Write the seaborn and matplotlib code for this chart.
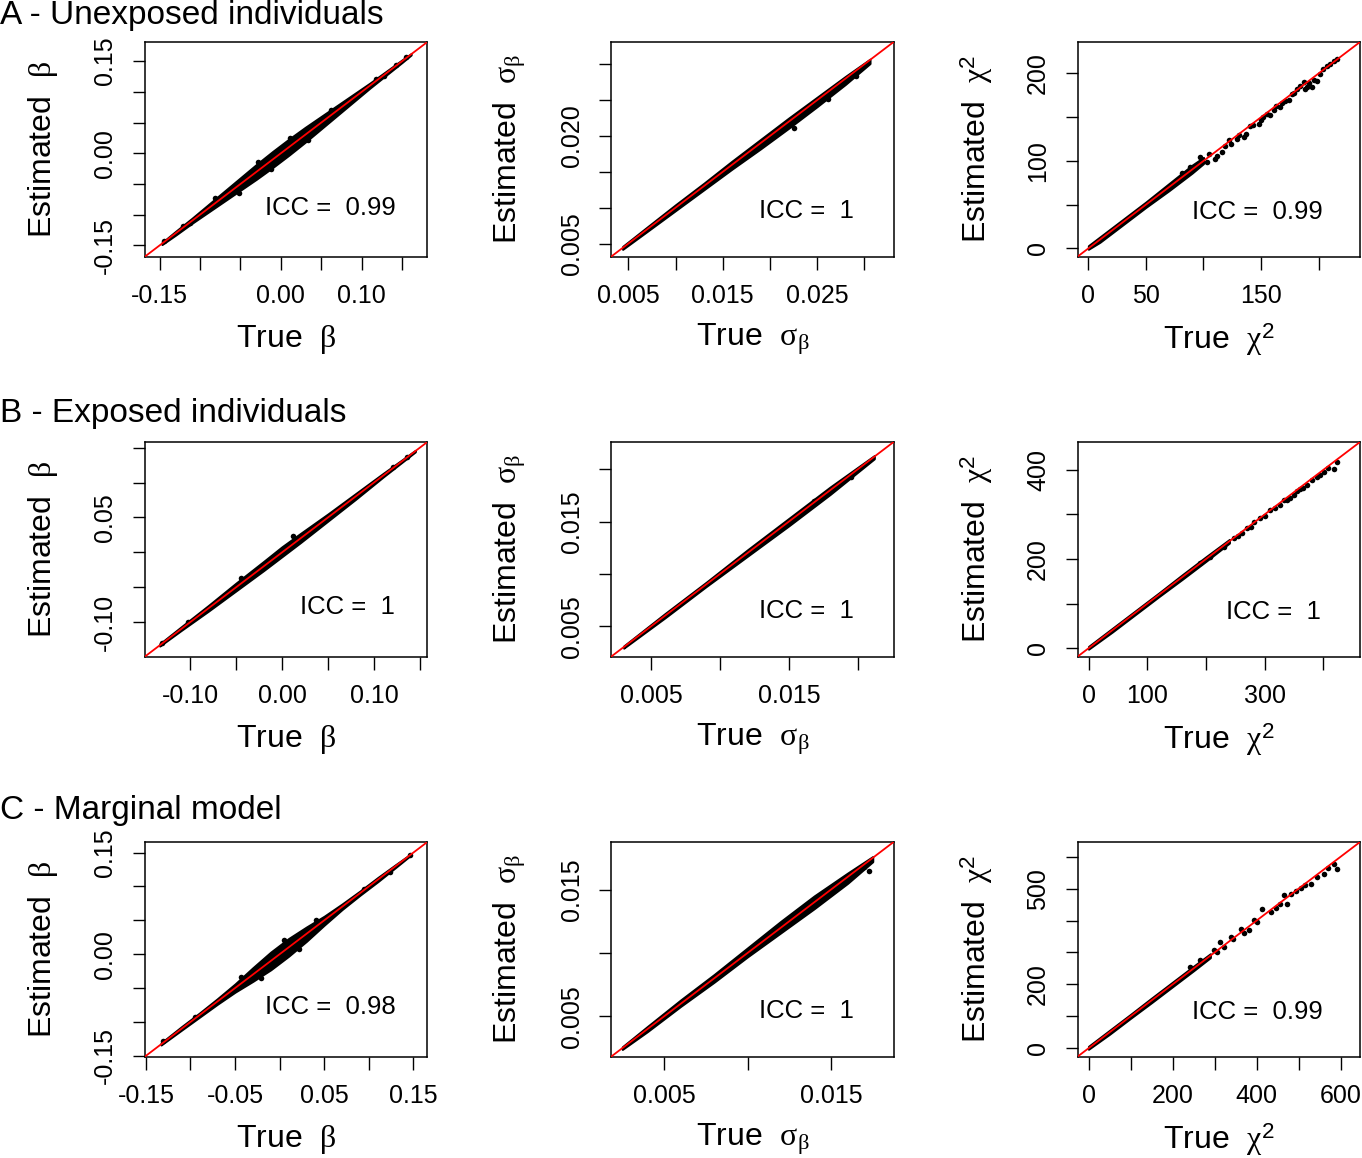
import numpy as np
import matplotlib.pyplot as plt
import seaborn as sns

sns.set_style('ticks')
plt.rcParams['font.family'] = ['Liberation Sans', 'DejaVu Sans']
plt.rcParams['mathtext.fontset'] = 'custom'
plt.rcParams['mathtext.rm'] = 'Liberation Serif'
plt.rcParams['mathtext.it'] = 'Liberation Serif:italic'
plt.rcParams['mathtext.sf'] = 'Liberation Sans'
plt.rcParams['text.color'] = 'black'
plt.rcParams['axes.labelcolor'] = 'black'
plt.rcParams['xtick.color'] = 'black'
plt.rcParams['ytick.color'] = 'black'

##################### data ###########################################################
# dense part of each cloud: true value, lower / upper deviation of the estimate
# plus the loose points that stick out of it

# A - unexposed
a_beta_x = [-0.147, -0.13, -0.11, -0.09, -0.07, -0.05, -0.03, -0.01, 0.01, 0.03, 0.05, 0.07, 0.09, 0.11, 0.13, 0.15, 0.161]
a_beta_lo = [-0.0015, -0.003, -0.004, -0.006, -0.008, -0.010, -0.012, -0.013, -0.013, -0.012, -0.010, -0.008, -0.006, -0.004, -0.003, -0.002, -0.001]
a_beta_hi = [0.0015, 0.003, 0.004, 0.006, 0.008, 0.010, 0.012, 0.013, 0.013, 0.012, 0.010, 0.008, 0.006, 0.004, 0.003, 0.002, 0.001]
a_beta_px = [-0.145, -0.121, -0.112, -0.081, -0.052, -0.028, -0.012, 0.011, 0.034, 0.062, 0.118, 0.127, 0.142, 0.155]
a_beta_py = [-0.143, -0.119, -0.114, -0.073, -0.064, -0.014, -0.026, 0.025, 0.021, 0.070, 0.121, 0.125, 0.144, 0.157]

a_sigma_x = [0.0044, 0.007, 0.010, 0.013, 0.016, 0.019, 0.022, 0.025, 0.028, 0.0306]
a_sigma_lo = [-0.0002, -0.0003, -0.0004, -0.0005, -0.0006, -0.0008, -0.0009, -0.0009, -0.0008, -0.0005]
a_sigma_hi = [0.0002, 0.0003, 0.0004, 0.0004, 0.0005, 0.0005, 0.0005, 0.0004, 0.0003, 0.0001]
a_sigma_px = [0.0225, 0.0262, 0.0291]
a_sigma_py = [0.0211, 0.0252, 0.0283]

a_chi_x = [0, 10, 30, 50, 70, 90, 100]
a_chi_lo = [-1, -3, -3, -3, -4, -4, -3]
a_chi_hi = [3, 3, 3, 3, 4, 5, 4]
a_chi_px = [81.7, 88.4, 97.1, 103, 105, 110.2, 112, 116, 119, 121.8, 124, 129, 131, 134.8, 137, 140.6,
            143, 147.9, 150, 152, 155.1, 158, 160.9, 163, 166.7, 168, 171, 174, 176.8, 179, 181.2,
            184, 187, 188.4, 190, 192, 194.2, 196, 198.5, 201.4, 204, 207.2, 210, 213, 216]
a_chi_py = [86, 93.1, 104.5, 98.8, 108, 102.6, 106, 110.2, 117, 123.5, 119, 125.5, 130, 127.4, 131, 139.5,
            141, 142.6, 147, 150, 154, 152, 157.7, 163, 161.5, 166, 169.1, 170, 176.7, 178, 182.4,
            186, 190, 182.4, 185, 189, 185, 193, 191.8, 199.4, 205, 208.9, 211, 214.6, 217]

# B - exposed
b_beta_x = [-0.133, -0.11, -0.08, -0.05, -0.02, 0.0, 0.02, 0.05, 0.08, 0.11, 0.145]
b_beta_lo = [-0.001, -0.002, -0.004, -0.005, -0.006, -0.006, -0.006, -0.005, -0.004, -0.002, -0.001]
b_beta_hi = [0.002, 0.003, 0.004, 0.006, 0.007, 0.008, 0.007, 0.005, 0.004, 0.003, 0.001]
b_beta_px = [-0.131, -0.102, -0.045, 0.012, 0.121, 0.136]
b_beta_py = [-0.129, -0.100, -0.036, 0.024, 0.122, 0.137]

b_sigma_x = [0.0030, 0.006, 0.009, 0.012, 0.015, 0.018, 0.0212]
b_sigma_lo = [-0.0001, -0.0002, -0.0002, -0.0003, -0.0004, -0.0004, -0.0002]
b_sigma_hi = [0.0001, 0.0002, 0.0002, 0.0003, 0.0003, 0.0003, 0.0001]
b_sigma_px = [0.0168, 0.0195]
b_sigma_py = [0.0170, 0.0193]

b_chi_x = [0, 40, 80, 120, 160, 200, 240]
b_chi_lo = [-2, -4, -4, -4, -5, -5, -4]
b_chi_hi = [4, 4, 4, 4, 5, 5, 4]
b_chi_px = [190.6, 207.7, 230.4, 247.4, 255, 262, 270.1, 276, 281.5, 292.8, 300, 309.8, 318, 326.9, 332.5,
            338, 344, 349.6, 355, 360.9, 366, 372.2, 380, 389.2, 395, 400.6, 408, 417.6, 423.3]
b_chi_py = [190.3, 205.1, 227.5, 246.3, 251, 258, 268.7, 271, 283.5, 291, 296, 309.6, 314, 320.8, 332,
            333, 337, 343.2, 352, 358.2, 360, 365.6, 377, 384.2, 388, 395.4, 404, 403, 417.8]

# C - marginal model
c_beta_x = [-0.133, -0.11, -0.09, -0.07, -0.05, -0.03, -0.01, 0.01, 0.03, 0.05, 0.07, 0.09, 0.11, 0.13, 0.145]
c_beta_lo = [-0.001, -0.002, -0.003, -0.004, -0.006, -0.010, -0.013, -0.013, -0.011, -0.007, -0.004, -0.003, -0.003, -0.002, -0.001]
c_beta_hi = [0.002, 0.003, 0.003, 0.004, 0.006, 0.010, 0.013, 0.013, 0.010, 0.006, 0.004, 0.003, 0.003, 0.002, 0.001]
c_beta_px = [-0.131, -0.095, -0.043, -0.021, 0.005, 0.022, 0.041, 0.094, 0.124, 0.146]
c_beta_py = [-0.128, -0.092, -0.034, -0.035, 0.021, 0.008, 0.050, 0.096, 0.121, 0.147]

c_sigma_x = [0.0025, 0.004, 0.006, 0.008, 0.010, 0.012, 0.014, 0.016, 0.0175]
c_sigma_lo = [-0.0001, -0.0002, -0.0002, -0.0003, -0.0003, -0.0004, -0.0005, -0.0005, -0.0003]
c_sigma_hi = [0.0001, 0.0002, 0.0003, 0.0003, 0.0004, 0.0005, 0.0005, 0.0003, 0.0001]
c_sigma_px = [0.0170, 0.0173]
c_sigma_py = [0.0168, 0.0165]

c_chi_x = [0, 50, 100, 150, 200, 250, 290]
c_chi_lo = [-3, -6, -6, -7, -7, -7, -6]
c_chi_hi = [6, 6, 6, 7, 7, 7, 6]
c_chi_px = [242.5, 266.4, 298.2, 305, 314, 322, 337.9, 345, 361.7, 370, 381.6, 393.5, 402, 413.4, 433.3,
            445, 455, 465, 473, 483, 493, 505, 515, 528.7, 544.6, 560.5, 570, 584.3, 592.3]
c_chi_py = [255, 276, 307, 300, 333, 318, 348.8, 342, 375, 362, 369.7, 401, 396, 437.5, 427,
            440, 452, 479, 453, 484, 493, 501, 512, 515.6, 536.5, 546.9, 566, 578, 562.5]

icc_text = ['0.99', '1', '0.99', '1', '1', '1', '0.98', '1', '0.99']
row_titles = ['A - Unexposed individuals', 'B - Exposed individuals', 'C - Marginal model']

##################### panel settings #######################################

panels = [
    (a_beta_x, a_beta_lo, a_beta_hi, a_beta_px, a_beta_py),
    (a_sigma_x, a_sigma_lo, a_sigma_hi, a_sigma_px, a_sigma_py),
    (a_chi_x, a_chi_lo, a_chi_hi, a_chi_px, a_chi_py),
    (b_beta_x, b_beta_lo, b_beta_hi, b_beta_px, b_beta_py),
    (b_sigma_x, b_sigma_lo, b_sigma_hi, b_sigma_px, b_sigma_py),
    (b_chi_x, b_chi_lo, b_chi_hi, b_chi_px, b_chi_py),
    (c_beta_x, c_beta_lo, c_beta_hi, c_beta_px, c_beta_py),
    (c_sigma_x, c_sigma_lo, c_sigma_hi, c_sigma_px, c_sigma_py),
    (c_chi_x, c_chi_lo, c_chi_hi, c_chi_px, c_chi_py),
]

lims = [(-0.168, 0.181), (0.0032, 0.0331), (-9.3, 236),
        (-0.149, 0.158), (0.0021, 0.0226), (-18.5, 462.5),
        (-0.151, 0.1655), (0.00184, 0.01875), (-25.7, 646)]

ticks = [np.arange(-0.15, 0.16, 0.05), np.arange(0.005, 0.0301, 0.005), np.arange(0, 201, 50),
         np.arange(-0.10, 0.16, 0.05), np.arange(0.005, 0.0201, 0.005), np.arange(0, 401, 100),
         np.arange(-0.15, 0.16, 0.05), np.arange(0.005, 0.0151, 0.005), np.arange(0, 601, 100)]

xlabs = [['-0.15', '', '', '0.00', '', '0.10', ''], ['0.005', '', '0.015', '', '0.025', ''], ['0', '50', '', '150', ''],
         ['-0.10', '', '0.00', '', '0.10', ''], ['0.005', '', '0.015', ''], ['0', '100', '', '300', ''],
         ['-0.15', '', '-0.05', '', '0.05', '', '0.15'], ['0.005', '', '0.015'], ['0', '', '200', '', '400', '', '600']]
ylabs = [['-0.15', '', '', '0.00', '', '', '0.15'], ['0.005', '', '', '0.020', '', ''], ['0', '', '100', '', '200'],
         ['-0.10', '', '', '0.05', '', ''], ['0.005', '', '0.015', ''], ['0', '', '200', '', '400'],
         ['-0.15', '', '', '0.00', '', '', '0.15'], ['0.005', '', '0.015'], ['0', '', '200', '', '', '500', '']]

names = [r'$\mathrm{\beta}$', r'$\mathrm{\sigma_{\beta}}$', r'$\mathrm{\chi}^{\mathsf{2}}$']

icc_pos = [(0.658, 0.224), (0.692, 0.210), (0.635, 0.207),
           (0.718, 0.229), (0.692, 0.214), (0.694, 0.206),
           (0.656, 0.229), (0.692, 0.214), (0.635, 0.207)]

# box edges in pixels
col_x = [145, 611.3, 1077.7]
row_y = [42, 442, 842]
box_w, box_h = 282.3, 214.5
W, H = 1362, 1158

fig = plt.figure(figsize=(W / 100, H / 100), dpi=100)

for i in range(9):
    r, c = i // 3, i % 3
    ax = fig.add_axes([col_x[c] / W, 1 - (row_y[r] + box_h) / H, box_w / W, box_h / H])
    x, lo, hi, px, py = panels[i]
    x = np.array(x)
    ax.fill_between(x, x + np.array(lo), x + np.array(hi), color='black', lw=1.5, zorder=2)
    sns.scatterplot(x=px, y=py, ax=ax, color='black', s=16, linewidth=0, zorder=3)
    ax.axline((lims[i][0], lims[i][0]), slope=1, color='red', lw=1.3, zorder=4)
    ax.set_xlim(lims[i])
    ax.set_ylim(lims[i])
    ax.set_xticks(ticks[i])
    ax.set_yticks(ticks[i])
    ax.set_xticklabels(xlabs[i], fontsize=18)
    ax.set_yticklabels(ylabs[i], fontsize=18, rotation=90, va='center')
    ax.tick_params(direction='out', length=9, width=1, pad=11, colors='black')
    for s in ax.spines.values():
        s.set_linewidth(1.1)
        s.set_color('black')
    ax.set_xlabel('True  ' + names[c], fontsize=23)
    ax.set_ylabel('Estimated  ' + names[c], fontsize=23)
    ax.xaxis.set_label_coords(0.5, -0.385)
    ax.xaxis.label.set_va('center')
    ax.yaxis.set_label_coords(-0.36, 0.5)
    ax.yaxis.label.set_va('center')
    ax.text(icc_pos[i][0], icc_pos[i][1], 'ICC =  ' + icc_text[i], transform=ax.transAxes,
            fontsize=18.5, ha='center', va='center')

for r in range(3):
    fig.text(0.0, 1 - [24, 422, 819][r] / H, row_titles[r], fontsize=24, ha='left', va='baseline')

fig.savefig('out.png', dpi=100)
